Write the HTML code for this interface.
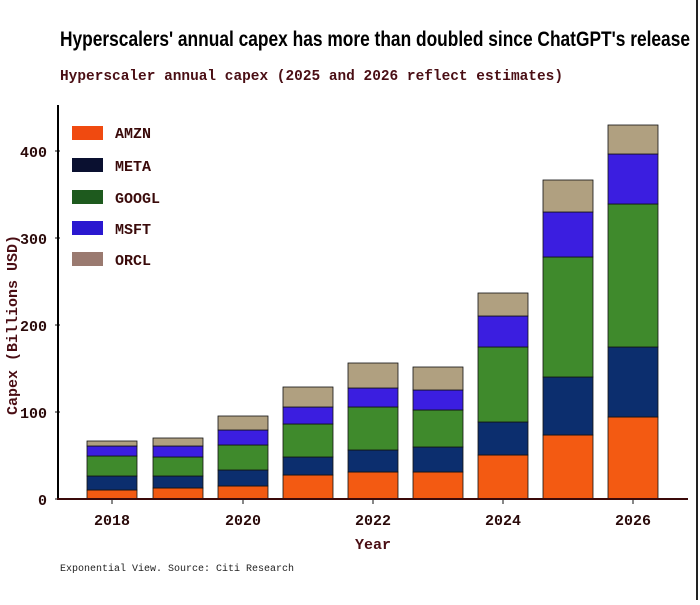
<!DOCTYPE html>
<html><head><meta charset="utf-8"><style>
body{margin:0;background:#fff;width:700px;height:600px;overflow:hidden}
</style></head><body>
<svg width="700" height="600" xmlns="http://www.w3.org/2000/svg">
<rect x="0" y="0" width="700" height="600" fill="#fff"/>
<line x1="697" y1="0" x2="697" y2="600" stroke="#222" stroke-width="2"/>
<text x="375" y="46" text-anchor="middle" font-family="Liberation Sans, sans-serif" font-size="21" font-weight="bold" fill="#000" textLength="630" lengthAdjust="spacingAndGlyphs">Hyperscalers' annual capex has more than doubled since ChatGPT's release</text>
<text x="60" y="80" font-family="Liberation Mono, monospace" font-size="15" font-weight="bold" fill="#4a0e14" textLength="503" lengthAdjust="spacingAndGlyphs">Hyperscaler annual capex (2025 and 2026 reflect estimates)</text>
<g font-family="Liberation Mono, monospace" font-weight="bold" fill="#2a0a0a">
<text transform="translate(17,325) rotate(-90)" text-anchor="middle" font-size="15" fill="#4a0e14">Capex (Billions USD)</text>
<text x="47" y="505" text-anchor="end" font-size="15">0</text>
<text x="47" y="418" text-anchor="end" font-size="15">100</text>
<text x="47" y="331" text-anchor="end" font-size="15">200</text>
<text x="47" y="244" text-anchor="end" font-size="15">300</text>
<text x="47" y="157" text-anchor="end" font-size="15">400</text>
<text x="112" y="525" text-anchor="middle" font-size="15">2018</text>
<text x="243" y="525" text-anchor="middle" font-size="15">2020</text>
<text x="373" y="525" text-anchor="middle" font-size="15">2022</text>
<text x="503" y="525" text-anchor="middle" font-size="15">2024</text>
<text x="633" y="525" text-anchor="middle" font-size="15">2026</text>
<text x="373" y="549" text-anchor="middle" font-size="15" fill="#4a0e14">Year</text>
<text x="60" y="571" font-size="10" font-weight="normal" fill="#222">Exponential View. Source: Citi Research</text>
</g>
<g stroke="#111" stroke-width="1">
<line x1="55" y1="499" x2="60" y2="499"/><line x1="55" y1="412" x2="60" y2="412"/><line x1="55" y1="325" x2="60" y2="325"/><line x1="55" y1="238" x2="60" y2="238"/><line x1="55" y1="151" x2="60" y2="151"/>
<line x1="112" y1="499" x2="112" y2="504"/><line x1="243" y1="499" x2="243" y2="504"/><line x1="373" y1="499" x2="373" y2="504"/><line x1="503" y1="499" x2="503" y2="504"/><line x1="633" y1="499" x2="633" y2="504"/>
</g>
<g stroke="#111" stroke-width="0.8">
<g fill="#f35a12">
<rect x="87" y="490" width="50" height="9"/><rect x="153" y="488" width="50" height="11"/><rect x="218" y="486" width="50" height="13"/><rect x="283" y="475" width="50" height="24"/><rect x="348" y="472" width="50" height="27"/><rect x="413" y="472" width="50" height="27"/><rect x="478" y="455" width="50" height="44"/><rect x="543" y="435" width="50" height="64"/><rect x="608" y="417" width="50" height="82"/>
</g>
<g fill="#0c2e6e">
<rect x="87" y="476" width="50" height="14"/><rect x="153" y="476" width="50" height="12"/><rect x="218" y="470" width="50" height="16"/><rect x="283" y="457" width="50" height="18"/><rect x="348" y="450" width="50" height="22"/><rect x="413" y="447" width="50" height="25"/><rect x="478" y="422" width="50" height="33"/><rect x="543" y="377" width="50" height="58"/><rect x="608" y="347" width="50" height="70"/>
</g>
<g fill="#3f8a2c">
<rect x="87" y="456" width="50" height="20"/><rect x="153" y="457" width="50" height="19"/><rect x="218" y="445" width="50" height="25"/><rect x="283" y="424" width="50" height="33"/><rect x="348" y="407" width="50" height="43"/><rect x="413" y="410" width="50" height="37"/><rect x="478" y="347" width="50" height="75"/><rect x="543" y="257" width="50" height="120"/><rect x="608" y="204" width="50" height="143"/>
</g>
<g fill="#3b1ee0">
<rect x="87" y="446" width="50" height="10"/><rect x="153" y="446" width="50" height="11"/><rect x="218" y="430" width="50" height="15"/><rect x="283" y="407" width="50" height="17"/><rect x="348" y="388" width="50" height="19"/><rect x="413" y="390" width="50" height="20"/><rect x="478" y="316" width="50" height="31"/><rect x="543" y="212" width="50" height="45"/><rect x="608" y="154" width="50" height="50"/>
</g>
<g fill="#b0a080">
<rect x="87" y="441" width="50" height="5"/><rect x="153" y="438" width="50" height="8"/><rect x="218" y="416" width="50" height="14"/><rect x="283" y="387" width="50" height="20"/><rect x="348" y="363" width="50" height="25"/><rect x="413" y="367" width="50" height="23"/><rect x="478" y="293" width="50" height="23"/><rect x="543" y="180" width="50" height="32"/><rect x="608" y="125" width="50" height="29"/>
</g>
</g>
<line x1="58" y1="105" x2="58" y2="500" stroke="#000" stroke-width="2"/>
<line x1="57" y1="499" x2="688" y2="499" stroke="#3a0a0a" stroke-width="2"/>
<g font-family="Liberation Mono, monospace" font-weight="bold" font-size="15" fill="#3a0a0a">
<rect x="72" y="126" width="31" height="14" fill="#f04a10"/><text x="115" y="138">AMZN</text>
<rect x="72" y="158" width="31" height="14" fill="#0a1030"/><text x="115" y="171">META</text>
<rect x="72" y="190" width="31" height="14" fill="#1e5a1e"/><text x="115" y="203">GOOGL</text>
<rect x="72" y="221" width="31" height="14" fill="#2a18d0"/><text x="115" y="234">MSFT</text>
<rect x="72" y="252" width="31" height="14" fill="#9a7a70"/><text x="115" y="265">ORCL</text>
</g>
</svg>
</body></html>
